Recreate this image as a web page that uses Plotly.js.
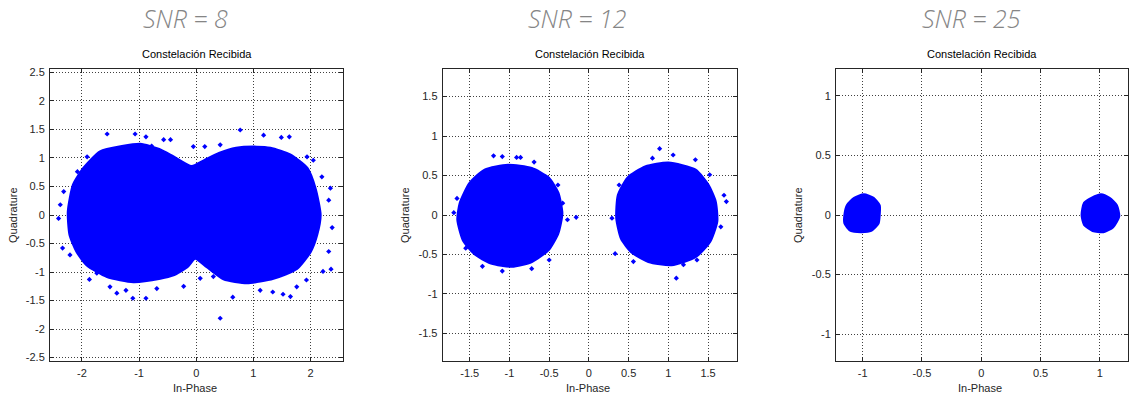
<!DOCTYPE html>
<html>
<head>
<meta charset="utf-8">
<script src="https://cdn.plot.ly/plotly-3.0.1.min.js"></script>
<style>html,body{margin:0;padding:0;background:#fff;}#chart{width:1129px;height:396px;}</style>
</head>
<body>
<div id="chart"></div>
<script>
// ---- data ----
const panelTitles = ["SNR = 8", "SNR = 12", "SNR = 25"];
const subTitle = "Constelación Recibida";
const xLabel = "In-Phase";
const yLabel = "Quadrature";

// SNR = 8 : dense cloud outline (two merged clusters)
const snr8CloudX = [-0.08,-0.40,-0.65,-0.98,-1.30,-1.68,-1.97,-2.15,-2.24,-2.21,-2.09,-1.91,-1.56,-1.10,-0.63,-0.40,-0.16,-0.02,0.19,0.48,0.89,1.35,1.76,2.00,2.11,2.17,2.08,1.94,1.65,1.30,1.06,0.70,0.40,0.15,-0.08];
const snr8CloudY = [0.85,1.02,1.15,1.24,1.20,1.11,0.82,0.53,0.06,-0.35,-0.64,-0.88,-1.08,-1.17,-1.11,-1.05,-0.91,-0.76,-0.91,-1.12,-1.19,-1.11,-0.94,-0.64,-0.35,0.00,0.47,0.82,1.05,1.17,1.19,1.17,1.08,0.96,0.85];
// SNR = 8 : isolated points
const snr8PtsX = [-1.56,-1.07,-0.88,0.77,1.18,1.63,1.49,0.42,0.15,-0.05,-0.57,-0.45,-0.78,-2.41,-2.38,-2.32,-2.34,-2.21,-2.08,-1.91,-1.87,-1.74,-1.39,-1.51,-1.11,-0.88,-1.23,-0.69,-0.22,0.07,0.42,0.64,0.30,1.12,1.34,1.52,1.65,1.76,1.93,2.22,2.36,2.32,2.38,2.32,2.35,2.20,2.05,1.94];
const snr8PtsY = [1.42,1.42,1.37,1.49,1.40,1.37,1.36,1.23,1.20,1.20,1.32,1.32,1.21,-0.06,0.18,0.41,-0.58,-0.70,0.76,1.02,-1.13,-1.02,-1.37,-1.26,-1.46,-1.46,-1.32,-1.29,-1.25,-1.11,-1.81,-1.44,-1.08,-1.32,-1.35,-1.39,-1.43,-1.26,-1.14,-0.99,-0.95,-0.64,-0.22,0.26,0.47,0.67,0.96,1.02];

// SNR = 12 : cluster outlines
const snr12LeftX = [-1.02,-1.31,-1.50,-1.62,-1.65,-1.58,-1.44,-1.23,-0.97,-0.72,-0.51,-0.39,-0.34,-0.39,-0.51,-0.72,-1.02];
const snr12LeftY = [0.63,0.57,0.40,0.15,-0.06,-0.32,-0.49,-0.61,-0.65,-0.59,-0.44,-0.23,0.02,0.28,0.47,0.59,0.63];
const snr12RightX = [1.00,0.71,0.49,0.37,0.35,0.41,0.54,0.75,1.04,1.34,1.52,1.61,1.59,1.50,1.34,1.00];
const snr12RightY = [0.66,0.61,0.47,0.25,-0.04,-0.30,-0.47,-0.59,-0.63,-0.53,-0.34,-0.08,0.17,0.38,0.57,0.66];
const snr12PtsX = [-1.20,-1.09,-0.91,-0.86,-0.69,-1.70,-1.66,-1.55,-1.34,-1.09,-0.72,-0.50,-0.27,-0.16,-0.39,-0.33,0.29,0.38,0.89,1.06,0.80,1.34,1.52,1.73,1.70,1.66,1.36,1.10,0.56,0.33,1.19];
const snr12PtsY = [0.75,0.74,0.73,0.73,0.67,0.03,0.21,-0.42,-0.65,-0.71,-0.68,-0.57,-0.06,-0.03,0.38,0.15,-0.04,0.38,0.84,0.76,0.72,0.70,0.51,0.17,0.25,-0.15,-0.57,-0.80,-0.59,-0.49,-0.63];

// SNR = 25 : cluster outlines
const snr25LeftX = [-0.99,-1.07,-1.13,-1.15,-1.15,-1.10,-1.01,-0.93,-0.87,-0.86,-0.86,-0.91,-0.99];
const snr25LeftY = [0.17,0.14,0.08,0.00,-0.07,-0.13,-0.14,-0.13,-0.07,0.01,0.08,0.14,0.17];
const snr25RightX = [1.01,0.93,0.87,0.85,0.87,0.94,1.03,1.11,1.16,1.14,1.08,1.01];
const snr25RightY = [0.17,0.14,0.10,0.00,-0.08,-0.13,-0.14,-0.10,-0.01,0.08,0.14,0.17];

// axis ticks
const p1XTicks = [-2,-1,0,1,2];
const p1YTicks = [-2.5,-2,-1.5,-1,-0.5,0,0.5,1,1.5,2,2.5];
const p2XTicks = [-1.5,-1,-0.5,0,0.5,1,1.5];
const p2YTicks = [-1.5,-1,-0.5,0,0.5,1,1.5];
const p3XTicks = [-1,-0.5,0,0.5,1];
const p3YTicks = [-1,-0.5,0,0.5,1];

// ---- build ----
const BLUE = '#0000ff';
function cloud(x, y, ax) {
  return {x: x, y: y, xaxis: ax[0], yaxis: ax[1], type: 'scatter', mode: 'lines',
    fill: 'toself', fillcolor: BLUE, line: {color: BLUE, width: 3, shape: 'spline', smoothing: 0.6},
    hoverinfo: 'skip', showlegend: false};
}
function pts(x, y, ax) {
  return {x: x, y: y, xaxis: ax[0], yaxis: ax[1], type: 'scatter', mode: 'markers',
    marker: {color: BLUE, size: 4, symbol: 'diamond'}, showlegend: false, hoverinfo: 'skip'};
}
const traces = [
  cloud(snr8CloudX, snr8CloudY, ['x','y']),
  pts(snr8PtsX, snr8PtsY, ['x','y']),
  cloud(snr12LeftX, snr12LeftY, ['x2','y2']),
  cloud(snr12RightX, snr12RightY, ['x2','y2']),
  pts(snr12PtsX, snr12PtsY, ['x2','y2']),
  cloud(snr25LeftX, snr25LeftY, ['x3','y3']),
  cloud(snr25RightX, snr25RightY, ['x3','y3'])
];

const fnt = {family: 'Liberation Sans, Arial, sans-serif', size: 11, color: '#262626'};
function lab(v) { return v.map(t => String(t)); }
function axis(domain, range, ticks, anchor) {
  return {domain: domain, range: range, anchor: anchor, tickvals: ticks, ticktext: lab(ticks),
    ticks: 'inside', ticklen: 4, tickcolor: '#262626', tickwidth: 1,
    showline: true, linecolor: '#262626', linewidth: 1, mirror: 'allticks',
    showgrid: true, gridcolor: '#404040', griddash: '1px,2px', gridwidth: 1,
    zeroline: false, tickfont: fnt, fixedrange: true, ticklabelstandoff: 2};
}
const W = 1129, H = 396;
const yDom = [(H-361)/H, (H-69)/H];
const d1 = [50/W, 343/W], d2 = [442.7/W, 736.7/W], d3 = [836/W, 1128.3/W];

const layout = {
  width: W, height: H, margin: {l:0, r:0, t:0, b:0},
  paper_bgcolor: '#fff', plot_bgcolor: '#fff', showlegend: false,
  xaxis: axis(d1, [-2.56, 2.57], p1XTicks, 'y'),
  yaxis: axis(yDom, [-2.56, 2.56], p1YTicks, 'x'),
  xaxis2: axis(d2, [-1.84, 1.86], p2XTicks, 'y2'),
  yaxis2: axis(yDom, [-1.85, 1.85], p2YTicks, 'x2'),
  xaxis3: axis(d3, [-1.225, 1.24], p3XTicks, 'y3'),
  yaxis3: axis(yDom, [-1.224, 1.224], p3YTicks, 'x3'),
  annotations: []
};
const titleX = [185, 577, 971];
const plotCX = [196.5, 589.7, 982];
const quadX = [13, 405, 798];
for (let i = 0; i < 3; i++) {
  layout.annotations.push({text: panelTitles[i], xref: 'paper', yref: 'paper', x: titleX[i]/W, y: (H-18)/H,
    xanchor: 'center', yanchor: 'middle', showarrow: false,
    font: {family: 'Open Sans, Noto Sans, sans-serif', size: 25, color: '#858585', style: 'italic', weight: 300}});
  layout.annotations.push({text: subTitle, xref: 'paper', yref: 'paper', x: plotCX[i]/W, y: (H-54)/H,
    xanchor: 'center', yanchor: 'middle', showarrow: false,
    font: {family: 'Liberation Sans, Arial, sans-serif', size: 11, color: '#000'}});
  layout.annotations.push({text: xLabel, xref: 'paper', yref: 'paper', x: (plotCX[i]-2)/W, y: (H-388)/H,
    xanchor: 'center', yanchor: 'middle', showarrow: false,
    font: {family: 'Liberation Sans, Arial, sans-serif', size: 11, color: '#262626'}});
  layout.annotations.push({text: yLabel, xref: 'paper', yref: 'paper', x: quadX[i]/W, y: (H-215)/H,
    xanchor: 'center', yanchor: 'middle', showarrow: false, textangle: -90,
    font: {family: 'Liberation Sans, Arial, sans-serif', size: 11, color: '#262626'}});
}
Plotly.newPlot('chart', traces, layout, {displayModeBar: false, staticPlot: true});
</script>
</body>
</html>
